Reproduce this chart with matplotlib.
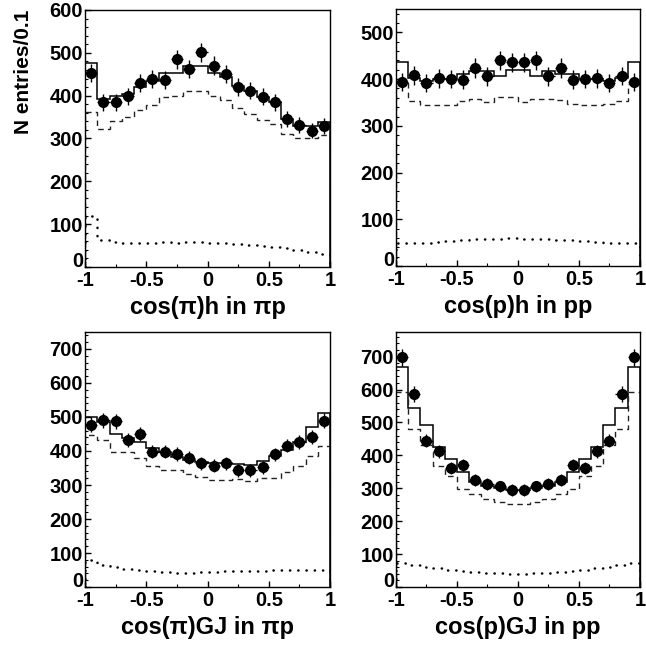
import numpy as np
import matplotlib.pyplot as plt
from matplotlib.ticker import MultipleLocator

plt.rcParams['font.family'] = ['Liberation Sans', 'DejaVu Sans']
plt.rcParams['font.weight'] = 'bold'
plt.rcParams['axes.unicode_minus'] = False

edges = np.linspace(-1, 1, 21)
centers = (edges[:-1] + edges[1:]) / 2

# cos(pi) helicity in pi p
h_pip_data = [452, 384, 384, 399, 430, 438, 436, 485, 462, 501, 470, 450, 421, 411, 397, 384, 345, 331, 318, 329]
h_pip_err = [21, 20, 20, 20, 21, 21, 21, 22, 21, 22, 22, 21, 21, 20, 20, 20, 19, 18, 18, 18]
h_pip_fit = [477, 391, 400, 405, 421, 434, 454, 454, 470, 470, 454, 444, 422, 410, 398, 385, 346, 330, 328, 338]
h_pip_sig = [361, 323, 340, 349, 366, 378, 397, 399, 411, 411, 399, 390, 370, 358, 343, 333, 310, 301, 300, 308]
h_pip_bkg = [120, 63, 58, 57, 57, 57, 58, 57, 58, 58, 56, 55, 53, 52, 49, 47, 44, 39, 35, 31]

# cos(p) helicity in p p
h_pp_data = [394, 408, 392, 402, 400, 399, 424, 406, 440, 436, 436, 440, 406, 424, 399, 400, 402, 392, 407, 394]
h_pp_err = [20, 20, 20, 20, 20, 20, 21, 20, 21, 21, 21, 21, 20, 21, 20, 20, 20, 20, 20, 20]
h_pp_fit = [436, 402, 397, 400, 400, 411, 418, 418, 407, 420, 420, 407, 418, 411, 411, 400, 400, 397, 402, 436]
h_pp_sig = [392, 354, 345, 344, 345, 354, 358, 352, 361, 361, 352, 357, 358, 356, 346, 344, 344, 346, 354, 390]
h_pp_bkg = [49, 49, 50, 51, 54, 56, 57, 57, 58, 59, 58, 57, 57, 56, 55, 53, 51, 50, 49, 49]

# cos(pi) Gottfried-Jackson in pi p
gj_pip_data = [477, 490, 487, 433, 449, 398, 398, 391, 380, 364, 356, 364, 344, 344, 352, 390, 416, 426, 442, 489]
gj_pip_err = [22, 22, 22, 21, 21, 20, 20, 20, 19, 19, 19, 19, 19, 19, 19, 20, 20, 21, 21, 22]
gj_pip_fit = [499, 484, 450, 437, 426, 410, 396, 382, 374, 367, 364, 364, 362, 359, 371, 385, 403, 427, 472, 513]
gj_pip_sig = [447, 431, 398, 398, 379, 357, 344, 344, 333, 323, 315, 315, 318, 312, 322, 322, 339, 357, 386, 415]
gj_pip_bkg = [80, 66, 58, 52, 49, 47, 43, 42, 42, 43, 45, 46, 47, 47, 48, 49, 49, 50, 50, 49]

# cos(p) Gottfried-Jackson in p p
gj_pp_data = [698, 587, 445, 412, 361, 371, 326, 313, 306, 295, 295, 306, 313, 326, 371, 361, 412, 445, 587, 698]
gj_pp_err = [26, 24, 21, 20, 19, 19, 18, 18, 17, 17, 17, 17, 18, 18, 19, 19, 20, 21, 24, 26]
gj_pp_fit = [670, 545, 491, 425, 389, 348, 320, 308, 300, 295, 295, 300, 308, 320, 348, 389, 425, 491, 545, 670]
gj_pp_sig = [594, 480, 432, 368, 336, 298, 283, 268, 258, 253, 253, 258, 268, 283, 298, 336, 368, 432, 480, 594]
gj_pp_bkg = [72, 66, 61, 57, 53, 49, 46, 43, 42, 41, 41, 42, 43, 46, 48, 53, 57, 61, 66, 72]

titles = ["cos(\u03c0)h in \u03c0p", "cos(p)h in pp", "cos(\u03c0)GJ in \u03c0p", "cos(p)GJ in pp"]
ymaxes = [600, 550, 750, 775]


def draw_panel(ax, data, err, fit, sig, bkg, title, ymax):
    ax.stairs(fit, edges, color='black', linewidth=1.1)
    ax.stairs(sig, edges, color='#222222', linewidth=1.0, linestyle=(0, (4, 3)))
    b = ax.stairs(bkg, edges, color='black', linewidth=1.8, linestyle=(0, (0.1, 3.2)))
    b.set_capstyle('round')
    ax.errorbar(centers, data, yerr=err, xerr=0.05, fmt='o', color='black',
                ms=7, elinewidth=1.0, capsize=0)
    ax.set_xticks([-1, -0.5, 0, 0.5, 1])
    ax.set_xticklabels(["-1", "-0.5", "0", "0.5", "1"])
    ax.xaxis.set_minor_locator(MultipleLocator(0.25))
    ax.set_yticks(np.arange(0, ymax + 1, 100))
    ax.yaxis.set_minor_locator(MultipleLocator(20))
    ax.set_xlim(-1, 1)
    ax.set_ylim(0, ymax)
    ax.tick_params(which='major', direction='in', length=4.5, width=1, labelsize=14.5)
    ax.tick_params(axis='x', which='major', pad=3)
    ax.tick_params(axis='y', which='major', pad=1.5)
    ax.tick_params(which='minor', direction='in', length=2.2, width=0.8)
    ax.tick_params(top=False, right=False)
    for sp in ax.spines.values():
        sp.set_linewidth(1.0)
    ax.set_xlabel(title, fontsize=17, fontweight='bold', labelpad=4)
    # the zero label sits a little higher, like ROOT does it
    ax.get_yticklabels()[0].set_va('baseline')


def main():
    fig = plt.figure(figsize=(6.46, 6.48), dpi=100)
    ax1 = fig.add_axes([0.1316, 0.588, 0.3793, 0.3966])
    ax2 = fig.add_axes([0.613, 0.5895, 0.3775, 0.3965])
    ax3 = fig.add_axes([0.1316, 0.0941, 0.3793, 0.3936])
    ax4 = fig.add_axes([0.613, 0.0941, 0.3775, 0.3936])

    draw_panel(ax1, h_pip_data, h_pip_err, h_pip_fit, h_pip_sig, h_pip_bkg, titles[0], ymaxes[0])
    draw_panel(ax2, h_pp_data, h_pp_err, h_pp_fit, h_pp_sig, h_pp_bkg, titles[1], ymaxes[1])
    draw_panel(ax3, gj_pip_data, gj_pip_err, gj_pip_fit, gj_pip_sig, gj_pip_bkg, titles[2], ymaxes[2])
    draw_panel(ax4, gj_pp_data, gj_pp_err, gj_pp_fit, gj_pp_sig, gj_pp_bkg, titles[3], ymaxes[3])

    ax1.set_ylabel("N entries/0.1", fontsize=15, fontweight='bold', loc='top', labelpad=12)

    fig.savefig("out.png", dpi=100)
    plt.close(fig)


if __name__ == "__main__":
    main()
